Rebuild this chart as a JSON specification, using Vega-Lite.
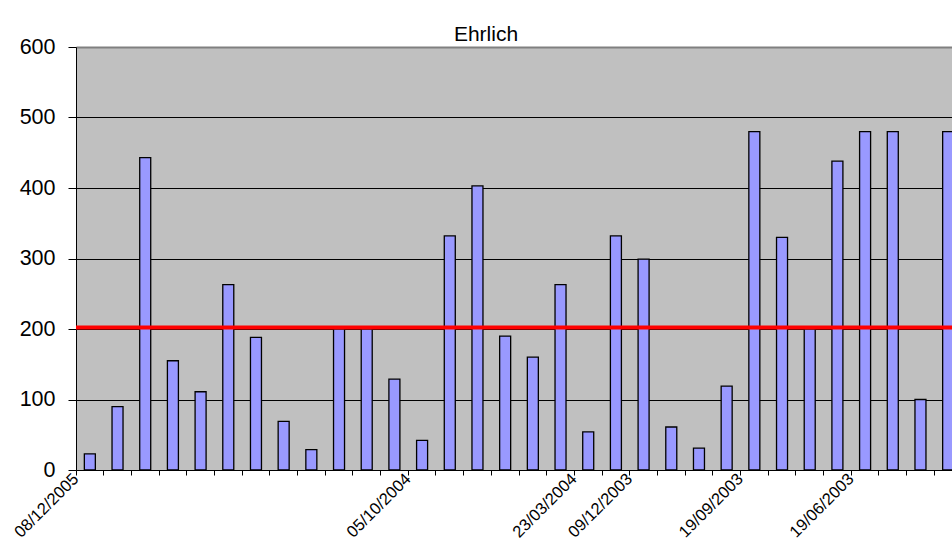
{
  "$schema": "https://vega.github.io/schema/vega-lite/v6.json",
  "autosize": "none",
  "width": 876,
  "height": 423,
  "padding": {"left": 76, "top": 47, "right": 0, "bottom": 89},
  "background": "white",
  "title": {
    "text": "Ehrlich",
    "font": "Liberation Sans",
    "fontSize": 21,
    "fontWeight": "normal",
    "color": "black",
    "anchor": "middle",
    "frame": "group",
    "dx": -28,
    "dy": 33,
    "offset": 7,
    "baseline": "alphabetic"
  },
  "config": {
    "view": {"fill": "#C0C0C0", "stroke": null}
  },
  "layer": [
    {
      "data": {
        "values": [
          {"n": 1, "date": "08/12/2005", "value": 23},
          {"n": 2, "date": "", "value": 90},
          {"n": 3, "date": "", "value": 443},
          {"n": 4, "date": "", "value": 155},
          {"n": 5, "date": "", "value": 111},
          {"n": 6, "date": "", "value": 263},
          {"n": 7, "date": "", "value": 188},
          {"n": 8, "date": "", "value": 69},
          {"n": 9, "date": "", "value": 29},
          {"n": 10, "date": "", "value": 200},
          {"n": 11, "date": "", "value": 200},
          {"n": 12, "date": "", "value": 129},
          {"n": 13, "date": "05/10/2004", "value": 42},
          {"n": 14, "date": "", "value": 332},
          {"n": 15, "date": "", "value": 403},
          {"n": 16, "date": "", "value": 190},
          {"n": 17, "date": "", "value": 160},
          {"n": 18, "date": "", "value": 263},
          {"n": 19, "date": "23/03/2004", "value": 54},
          {"n": 20, "date": "", "value": 332},
          {"n": 21, "date": "09/12/2003", "value": 299},
          {"n": 22, "date": "", "value": 61},
          {"n": 23, "date": "", "value": 31},
          {"n": 24, "date": "", "value": 119},
          {"n": 25, "date": "19/09/2003", "value": 480},
          {"n": 26, "date": "", "value": 330},
          {"n": 27, "date": "", "value": 200},
          {"n": 28, "date": "", "value": 438},
          {"n": 29, "date": "19/06/2003", "value": 480},
          {"n": 30, "date": "", "value": 480},
          {"n": 31, "date": "", "value": 100},
          {"n": 32, "date": "", "value": 480}
        ]
      },
      "mark": {"type": "bar", "fill": "#9999FF", "stroke": "black", "strokeWidth": 1.3, "width": 11, "clip": true},
      "encoding": {
        "x": {
          "field": "n",
          "type": "ordinal",
          "sort": null,
          "scale": {"range": [0, 886], "paddingInner": 0, "paddingOuter": 0},
          "axis": {
            "title": null,
            "bandPosition": 0,
            "grid": false,
            "labelAngle": -45,
            "labelAlign": "right",
            "labelBaseline": "middle",
            "labelFont": "Liberation Sans",
            "labelFontSize": 16.5,
            "labelColor": "black",
            "labelPadding": 1,
            "labelOffset": -14,
            "labelOverlap": false,
            "labelBound": false,
            "labelFlush": false,
            "tickSize": 5,
            "tickColor": "black",
            "tickWidth": 1,
            "domainColor": "black",
            "domainWidth": 1,
            "labelExpr": "datum.value == 1 ? '08/12/2005' : datum.value == 13 ? '05/10/2004' : datum.value == 19 ? '23/03/2004' : datum.value == 21 ? '09/12/2003' : datum.value == 25 ? '19/09/2003' : datum.value == 29 ? '19/06/2003' : ''"
          }
        },
        "y": {
          "field": "value",
          "type": "quantitative",
          "scale": {"domain": [0, 600], "nice": false, "zero": true},
          "axis": {
            "title": null,
            "values": [0, 100, 200, 300, 400, 500, 600],
            "grid": true,
            "gridColor": {"condition": {"test": "datum.value == 600", "value": "#808080"}, "value": "black"},
            "gridWidth": {"condition": {"test": "datum.value == 600", "value": 2}, "value": 1},
            "gridOpacity": {"condition": {"test": "datum.value == 0", "value": 0}, "value": 1},
            "tickSize": 8,
            "tickColor": "black",
            "labelPadding": 13,
            "labelFont": "Liberation Sans",
            "labelFontSize": 21.5,
            "labelColor": "black",
            "labelBound": false,
            "labelFlush": false,
            "domainColor": "black",
            "domainWidth": 1
          }
        }
      }
    },
    {
      "data": {"values": [{"level": 202}]},
      "mark": {"type": "rule", "color": "#FF0000", "strokeWidth": 4, "clip": true},
      "encoding": {
        "y": {"field": "level", "type": "quantitative"}
      }
    }
  ]
}
